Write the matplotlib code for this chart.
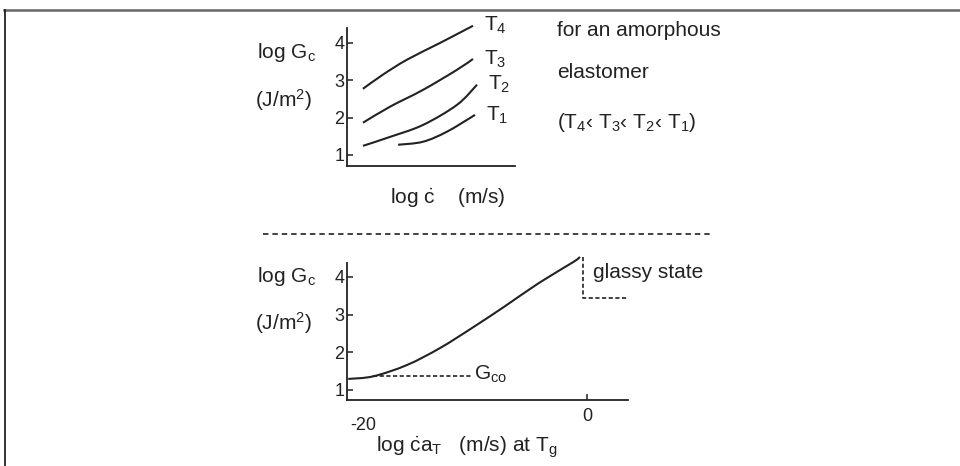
import matplotlib.pyplot as plt
import numpy as np
from matplotlib.lines import Line2D
from matplotlib.path import Path
from matplotlib.patches import PathPatch

W, H = 960, 466
FONT = ['Liberation Sans Narrow', 'Liberation Sans', 'DejaVu Sans']
plt.rcParams['font.family'] = FONT
plt.rcParams['mathtext.fontset'] = 'custom'
plt.rcParams['mathtext.rm'] = 'Liberation Sans'
plt.rcParams['mathtext.it'] = 'Liberation Sans'

# top panel: log Gc vs log c-dot for four temperatures
t4_x = [0.95, 2.14, 3.57, 5.54, 7.5]
t4_y = [2.77, 3.15, 3.55, 4.0, 4.46]
t3_x = [0.95, 2.56, 4.52, 6.55, 7.5]
t3_y = [1.86, 2.29, 2.74, 3.28, 3.57]
t2_x = [0.95, 2.56, 4.52, 6.55, 7.74]
t2_y = [1.24, 1.48, 1.80, 2.34, 2.88]
t1_x = [3.04, 4.52, 5.95, 7.62]
t1_y = [1.27, 1.35, 1.62, 2.07]
top_curves = [(t4_x, t4_y), (t3_x, t3_y), (t2_x, t2_y), (t1_x, t1_y)]
top_labels = ['4', '3', '2', '1']
yticks = [1, 2, 3, 4]

# bottom panel: master curve at Tg
master_x = [-19.9, -17.8, -15.0, -12.25, -9.5, -6.75, -4.0, -1.17, -0.58]
master_y = [1.29, 1.36, 1.66, 2.11, 2.66, 3.24, 3.84, 4.39, 4.53]
gco_x = [-17.8, -9.6]
gco_y = [1.37, 1.37]
glass_x = [-0.33, -0.33, 3.33]
glass_y = [4.53, 3.44, 3.44]

INK = '#222222'
FS = 15


def fx(px):
    return px / W


def fy(py):
    return 1 - py / H


def smooth_line(ax, xs, ys, lw=1.5):
    # Catmull-Rom through the read points, drawn as cubic Bezier segments
    p = np.column_stack([xs, ys])
    ext = np.vstack([p[0], p, p[-1]])
    verts = [p[0]]
    codes = [Path.MOVETO]
    for i in range(1, len(ext) - 2):
        c1 = ext[i] + (ext[i + 1] - ext[i - 1]) / 6
        c2 = ext[i + 1] - (ext[i + 2] - ext[i]) / 6
        verts += [c1, c2, ext[i + 1]]
        codes += [Path.CURVE4] * 3
    patch = PathPatch(Path(verts, codes), fill=False, edgecolor=INK, lw=lw,
                      transform=ax.transData, clip_on=False)
    ax.add_patch(patch)


fig = plt.figure(figsize=(9.6, 4.66), dpi=100)

# frame of the scanned figure
fig.add_artist(Line2D([fx(4), 1], [fy(9.5), fy(9.5)], color='#666666', lw=1.8))
fig.add_artist(Line2D([fx(4.5), fx(4.5)], [fy(9.5), 0], color=INK, lw=1.3))


def style_axes(ax):
    for s in ['top', 'right']:
        ax.spines[s].set_visible(False)
    for s in ['left', 'bottom']:
        ax.spines[s].set_linewidth(1.3)
        ax.spines[s].set_color(INK)
    ax.set_yticks(yticks)
    ax.tick_params(axis='y', direction='in', length=4, width=1.1, pad=2,
                   labelsize=13, colors=INK)
    ax.patch.set_alpha(0)


# ---- top panel ----
ax1 = fig.add_axes([fx(347), fy(166), fx(515) - fx(347), fy(28) - fy(166)])
ax1.set_xlim(0, 10)
ax1.set_ylim(0.70, 4.4)
style_axes(ax1)
ax1.set_xticks([])
for (xs, ys), lab in zip(top_curves, top_labels):
    smooth_line(ax1, xs, ys)
    ax1.annotate(r'T$_{%s}$' % lab, (xs[-1], ys[-1]), xytext=(8, 0),
                 textcoords='offset points', fontsize=FS, color=INK,
                 va='center', ha='left', annotation_clip=False)

fig.text(fx(257), fy(53), r'log G$_{\mathrm{c}}$', fontsize=FS, color=INK, va='center')
fig.text(fx(255), fy(100), r'(J/m$^{2}$)', fontsize=FS, color=INK, va='center')
fig.text(fx(390), fy(198), r'log $\dot{\mathrm{c}}$    (m/s)', fontsize=FS, color=INK, va='center')

fig.text(fx(557), fy(30), 'for an amorphous', fontsize=FS, color=INK, va='center')
fig.text(fx(557), fy(72), 'elastomer', fontsize=FS, color=INK, va='center')
fig.text(fx(557), fy(123), r'(T$_4$‹ T$_3$‹ T$_2$‹ T$_1$)', fontsize=FS, color=INK, va='center')

# separator
fig.add_artist(Line2D([fx(263), fx(710)], [fy(234), fy(234)], color='#333333',
                      lw=1.3, dashes=(3, 2.2)))

# ---- bottom panel ----
ax2 = fig.add_axes([fx(347), fy(400), fx(628) - fx(347), fy(263) - fy(400)])
ax2.set_xlim(-20, 3.42)
ax2.set_ylim(0.73, 4.37)
style_axes(ax2)
ax2.set_xticks([0])
ax2.tick_params(axis='x', direction='in', length=4, width=1.1, pad=6,
                labelsize=13, colors=INK)
smooth_line(ax2, master_x, master_y)
ax2.plot(gco_x, gco_y, color=INK, lw=1.2, dashes=(2.5, 1.5), clip_on=False)
ax2.plot(glass_x, glass_y, color=INK, lw=1.2, dashes=(2.5, 1.5), clip_on=False)
ax2.text(-9.4, gco_y[0] + 0.05, r'G$_{\mathrm{co}}$', fontsize=FS, color=INK, va='center')
ax2.text(0.5, 4.13, 'glassy state', fontsize=FS, color=INK, va='center')

fig.text(fx(350), fy(425), '-20', fontsize=13, color=INK, va='center')
fig.text(fx(257), fy(277), r'log G$_{\mathrm{c}}$', fontsize=FS, color=INK, va='center')
fig.text(fx(255), fy(323), r'(J/m$^{2}$)', fontsize=FS, color=INK, va='center')
fig.text(fx(376), fy(447), r'log $\dot{\mathrm{c}}$a$_{\mathrm{T}}$   (m/s) at T$_{\mathrm{g}}$',
         fontsize=FS, color=INK, va='center')

fig.savefig('out.png', dpi=100)
